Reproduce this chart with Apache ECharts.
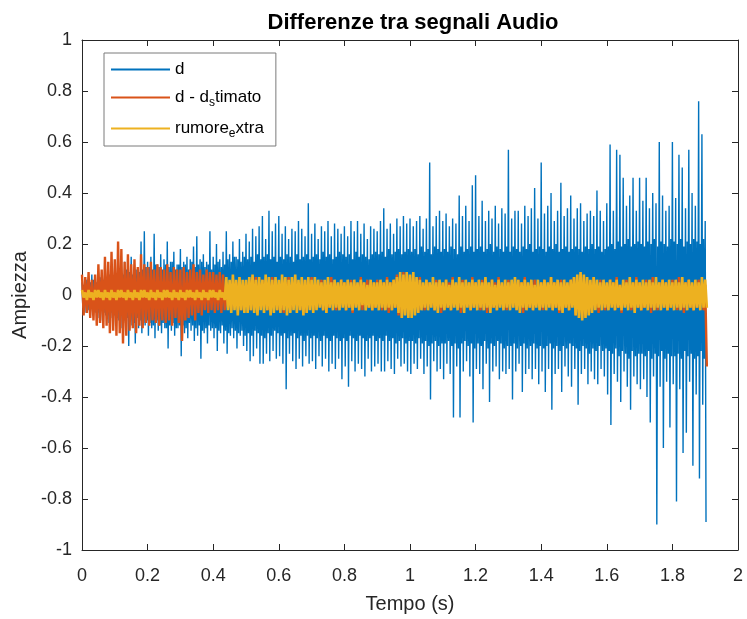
<!DOCTYPE html>
<html>
<head>
<meta charset="utf-8">
<script src="https://cdn.jsdelivr.net/npm/echarts@6/dist/echarts.min.js"></script>
<style>
  html, body { margin: 0; padding: 0; background: #fff; }
  #grafico { width: 747px; height: 619px; }
</style>
</head>
<body>
<div id="grafico"></div>
<script>
// passo tra due coppie (picco alto + picco basso), in secondi
var passoD = 0.005;
var passo = 0.01;

// d: picchi superiori / inferiori (una coppia ogni 5 ms)
var dSu = [
  .05,.04,.07,.06,.06,.05,.08,.06,.07,.05,.09,.07,.08,.06,.10,.07,.09,.08,.11,.07,
  .10,.08,.12,.09,.09,.08,.13,.10,.11,.09,.15,.08,.12,.10,.10,.09,.21,.10,.25,.11,
  .13,.11,.15,.10,.24,.12,.12,.11,.16,.10,.14,.12,.21,.11,.13,.13,.17,.10,.12,.12,
  .18,.11,.13,.12,.15,.10,.14,.13,.19,.11,.23,.12,.14,.13,.16,.11,.13,.12,.25,.10,
  .15,.12,.20,.13,.14,.11,.17,.12,.25,.14,.16,.13,.21,.15,.15,.14,.22,.13,.17,.15,
  .24,.14,.21,.15,.26,.13,.23,.16,.27,.14,.31,.15,.22,.16,.33,.14,.25,.15,.28,.13,
  .31,.15,.24,.14,.27,.16,.22,.15,.26,.13,.25,.16,.29,.14,.26,.15,.23,.16,.36,.14,
  .24,.15,.28,.16,.22,.14,.27,.17,.25,.15,.29,.16,.23,.14,.28,.15,.26,.17,.24,.16,
  .27,.15,.23,.16,.29,.14,.25,.17,.29,.15,.24,.16,.28,.15,.22,.14,.27,.16,.26,.17,
  .25,.16,.29,.17,.34,.15,.26,.18,.28,.16,.24,.17,.30,.18,.27,.16,.31,.17,.28,.18,
  .30,.17,.27,.18,.29,.16,.31,.19,.26,.17,.30,.18,.52,.16,.27,.19,.31,.18,.33,.17,
  .29,.18,.32,.17,.27,.19,.30,.18,.28,.16,.39,.19,.31,.17,.35,.18,.29,.19,.43,.17,
  .47,.18,.31,.19,.37,.17,.29,.18,.33,.20,.30,.17,.35,.19,.28,.18,.34,.17,.32,.19,
  .57,.17,.30,.19,.33,.18,.33,.17,.28,.19,.35,.18,.31,.20,.34,.17,.42,.18,.30,.19,
  .52,.18,.32,.17,.35,.19,.40,.18,.29,.20,.33,.17,.44,.18,.31,.19,.34,.17,.39,.18,
  .30,.19,.34,.18,.36,.17,.29,.19,.32,.18,.33,.20,.31,.18,.41,.19,.33,.17,.29,.18,
  .36,.19,.59,.20,.33,.18,.57,.21,.55,.19,.46,.20,.35,.22,.39,.19,.46,.20,.33,.21,
  .46,.20,.37,.19,.46,.21,.34,.20,.40,.22,.36,.19,.60,.21,.39,.20,.33,.19,.35,.22,
  .60,.21,.38,.20,.55,.22,.50,.19,.34,.21,.57,.20,.40,.22,.35,.21,.76,.20,.63,.22,
  .29
];
var dGiu = [
  -.05,-.04,-.07,-.06,-.06,-.05,-.08,-.06,-.07,-.07,-.09,-.06,-.10,-.07,-.08,-.08,-.11,-.07,-.09,-.08,
  -.12,-.09,-.10,-.08,-.13,-.10,-.11,-.09,-.20,-.10,-.12,-.11,-.19,-.09,-.13,-.10,-.15,-.11,-.12,-.10,
  -.16,-.11,-.13,-.12,-.17,-.10,-.14,-.12,-.15,-.11,-.13,-.13,-.21,-.12,-.14,-.11,-.16,-.13,-.13,-.12,
  -.24,-.12,-.15,-.13,-.17,-.11,-.14,-.12,-.18,-.13,-.16,-.12,-.25,-.14,-.15,-.13,-.19,-.12,-.14,-.13,
  -.17,-.13,-.22,-.14,-.15,-.12,-.19,-.14,-.23,-.15,-.16,-.13,-.17,-.14,-.21,-.15,-.16,-.14,-.20,-.16,
  -.22,-.15,-.26,-.16,-.24,-.14,-.21,-.15,-.27,-.16,-.27,-.17,-.23,-.15,-.26,-.16,-.22,-.14,-.25,-.15,
  -.24,-.16,-.27,-.15,-.37,-.17,-.23,-.16,-.26,-.15,-.29,-.17,-.25,-.16,-.28,-.18,-.24,-.16,-.27,-.17,
  -.26,-.16,-.29,-.17,-.24,-.18,-.28,-.16,-.25,-.17,-.30,-.18,-.27,-.16,-.29,-.17,-.25,-.18,-.33,-.17,
  -.28,-.18,-.36,-.16,-.26,-.17,-.30,-.18,-.27,-.16,-.29,-.17,-.32,-.18,-.25,-.17,-.30,-.16,-.28,-.18,
  -.27,-.17,-.30,-.18,-.30,-.16,-.26,-.18,-.29,-.17,-.31,-.19,-.25,-.18,-.28,-.17,-.27,-.19,-.30,-.18,
  -.31,-.18,-.27,-.19,-.29,-.17,-.25,-.19,-.31,-.18,-.28,-.20,-.41,-.19,-.26,-.18,-.30,-.20,-.29,-.19,
  -.33,-.19,-.27,-.18,-.31,-.20,-.48,-.19,-.28,-.21,-.48,-.19,-.30,-.18,-.26,-.20,-.32,-.19,-.50,-.21,
  -.29,-.19,-.31,-.20,-.37,-.18,-.27,-.21,-.42,-.19,-.30,-.20,-.28,-.18,-.33,-.19,-.30,-.21,-.31,-.20,
  -.29,-.20,-.41,-.19,-.30,-.21,-.27,-.20,-.38,-.19,-.31,-.21,-.29,-.20,-.33,-.19,-.29,-.21,-.35,-.20,
  -.30,-.21,-.38,-.20,-.29,-.19,-.45,-.21,-.31,-.20,-.29,-.22,-.38,-.20,-.28,-.21,-.32,-.19,-.36,-.20,
  -.29,-.21,-.43,-.22,-.31,-.20,-.29,-.21,-.35,-.23,-.30,-.21,-.33,-.22,-.35,-.20,-.29,-.22,-.32,-.21,
  -.39,-.22,-.51,-.23,-.31,-.21,-.34,-.24,-.42,-.22,-.30,-.23,-.36,-.25,-.45,-.22,-.32,-.24,-.35,-.23,
  -.37,-.23,-.33,-.24,-.40,-.22,-.50,-.25,-.32,-.23,-.90,-.24,-.36,-.22,-.60,-.25,-.34,-.23,-.52,-.24,
  -.35,-.24,-.81,-.23,-.37,-.25,-.62,-.22,-.54,-.24,-.34,-.23,-.67,-.25,-.39,-.24,-.72,-.22,-.43,-.25,
  -.89
];

// d - d_stimato (una coppia ogni 10 ms)
var stimaSu = [
  .08,.07,.09,.06,.08,.12,.10,.15,.13,.17,
  .14,.21,.18,.13,.16,.12,.14,.11,.16,.12,
  .11,.13,.10,.12,.11,.10,.12,.09,.11,.10,
  .10,.11,.09,.10,.12,.09,.10,.08,.10,.09,
  .09,.08,.09,.08,.05,.04,.06,.05,.07,.04,
  .05,.06,.04,.07,.05,.06,.04,.05,.07,.05,
  .04,.06,.05,.07,.04,.06,.05,.04,.06,.05,
  .07,.04,.05,.06,.04,.05,.07,.05,.04,.06,
  .05,.04,.06,.05,.04,.07,.05,.06,.04,.05,
  .06,.04,.05,.07,.05,.06,.08,.07,.09,.08,
  .07,.06,.05,.07,.04,.06,.05,.04,.06,.05,
  .04,.06,.05,.07,.04,.05,.06,.04,.05,.07,
  .05,.04,.06,.05,.04,.06,.05,.07,.04,.05,
  .06,.04,.05,.06,.05,.07,.04,.05,.06,.04,
  .05,.06,.04,.07,.05,.04,.06,.05,.04,.06,
  .07,.06,.08,.07,.06,.05,.07,.04,.06,.05,
  .04,.06,.05,.07,.04,.05,.06,.04,.05,.07,
  .05,.04,.06,.05,.07,.04,.05,.06,.05,.04,
  .06,.05,.07,.04,.05,.06,.04,.05,.06,.05,
  .04
];
var stimaGiu = [
  -.08,-.07,-.09,-.10,-.12,-.11,-.13,-.12,-.15,-.14,
  -.16,-.15,-.19,-.16,-.14,-.13,-.15,-.12,-.13,-.11,
  -.12,-.10,-.11,-.12,-.10,-.11,-.10,-.12,-.09,-.11,
  -.18,-.10,-.09,-.08,-.10,-.07,-.08,-.06,-.07,-.06,
  -.07,-.06,-.07,-.06,-.05,-.06,-.04,-.05,-.06,-.05,
  -.04,-.06,-.05,-.07,-.04,-.05,-.06,-.04,-.05,-.06,
  -.05,-.07,-.04,-.06,-.05,-.04,-.06,-.05,-.07,-.04,
  -.06,-.05,-.04,-.06,-.07,-.05,-.04,-.06,-.05,-.04,
  -.06,-.05,-.07,-.04,-.05,-.06,-.04,-.05,-.06,-.05,
  -.04,-.06,-.05,-.07,-.06,-.05,-.08,-.09,-.07,-.08,
  -.06,-.05,-.07,-.04,-.06,-.05,-.04,-.06,-.05,-.07,
  -.04,-.05,-.06,-.04,-.05,-.07,-.05,-.04,-.06,-.05,
  -.04,-.06,-.05,-.07,-.04,-.05,-.06,-.04,-.05,-.06,
  -.05,-.04,-.06,-.05,-.07,-.04,-.05,-.06,-.04,-.05,
  -.06,-.05,-.04,-.06,-.05,-.07,-.04,-.05,-.06,-.04,
  -.08,-.07,-.09,-.08,-.07,-.06,-.05,-.07,-.04,-.06,
  -.05,-.04,-.06,-.05,-.07,-.04,-.05,-.06,-.04,-.05,
  -.06,-.05,-.04,-.07,-.05,-.06,-.04,-.05,-.06,-.05,
  -.04,-.06,-.05,-.07,-.04,-.05,-.06,-.05,-.04,-.06,
  -.28
];

// rumore_extra (una coppia ogni 10 ms)
var rumoreSu = [
  .02,.01,.02,.01,.02,.02,.01,.02,.01,.02,
  .01,.02,.02,.01,.02,.01,.02,.01,.02,.02,
  .01,.02,.01,.02,.01,.02,.02,.01,.02,.01,
  .02,.01,.02,.02,.01,.02,.01,.02,.01,.02,
  .02,.01,.02,.01,.07,.06,.08,.06,.07,.06,
  .06,.07,.08,.06,.07,.06,.08,.07,.06,.07,
  .06,.08,.07,.06,.07,.08,.06,.07,.06,.07,
  .06,.07,.06,.05,.06,.07,.05,.06,.05,.06,
  .05,.06,.05,.06,.05,.06,.05,.04,.06,.05,
  .05,.06,.05,.06,.05,.06,.07,.09,.08,.09,
  .08,.09,.07,.06,.05,.06,.05,.07,.05,.06,
  .05,.06,.04,.06,.05,.07,.05,.06,.05,.06,
  .05,.06,.05,.07,.05,.06,.04,.06,.05,.06,
  .05,.06,.07,.06,.05,.06,.05,.06,.04,.06,
  .05,.06,.05,.07,.05,.06,.05,.06,.05,.06,
  .07,.08,.09,.08,.07,.06,.07,.06,.05,.06,
  .05,.06,.05,.06,.04,.06,.05,.07,.05,.06,
  .05,.06,.05,.06,.05,.07,.05,.06,.05,.06,
  .05,.06,.05,.07,.05,.06,.05,.06,.05,.07,
  .06
];
var rumoreGiu = [
  -.01,-.02,-.01,-.02,-.01,-.01,-.02,-.01,-.02,-.01,
  -.02,-.01,-.01,-.02,-.01,-.02,-.01,-.02,-.01,-.01,
  -.02,-.01,-.02,-.01,-.02,-.01,-.01,-.02,-.01,-.02,
  -.01,-.02,-.01,-.01,-.02,-.01,-.02,-.01,-.02,-.01,
  -.01,-.02,-.01,-.02,-.06,-.07,-.06,-.08,-.06,-.07,
  -.07,-.06,-.07,-.08,-.06,-.07,-.06,-.08,-.07,-.06,
  -.07,-.06,-.08,-.07,-.06,-.07,-.06,-.08,-.07,-.06,
  -.07,-.06,-.05,-.06,-.07,-.05,-.06,-.05,-.06,-.05,
  -.06,-.05,-.06,-.05,-.06,-.04,-.06,-.05,-.06,-.05,
  -.06,-.05,-.06,-.05,-.06,-.05,-.07,-.09,-.08,-.09,
  -.09,-.08,-.07,-.06,-.05,-.06,-.05,-.06,-.07,-.05,
  -.06,-.05,-.06,-.05,-.06,-.05,-.07,-.05,-.06,-.05,
  -.06,-.05,-.06,-.05,-.07,-.05,-.06,-.05,-.06,-.05,
  -.06,-.05,-.06,-.07,-.05,-.06,-.05,-.06,-.05,-.06,
  -.05,-.06,-.05,-.06,-.05,-.06,-.07,-.05,-.06,-.05,
  -.08,-.09,-.10,-.09,-.08,-.07,-.06,-.05,-.06,-.05,
  -.06,-.05,-.06,-.05,-.06,-.05,-.06,-.05,-.07,-.05,
  -.06,-.05,-.06,-.05,-.06,-.05,-.06,-.05,-.06,-.05,
  -.06,-.05,-.06,-.05,-.06,-.05,-.06,-.05,-.06,-.05,
  -.05
];

var nomi = ["d", "d - d_stimato", "rumore_extra"];
var colori = ["#0072BD", "#D95319", "#EDB120"];
var spessori = [1.4, 2.4, 2.6];

// alterna picco alto e picco basso lungo il tempo
function costruisci(su, giu, dt) {
  var out = [];
  for (var i = 0; i < su.length; i++) {
    out.push([+(i * dt).toFixed(4), su[i]]);
    out.push([+(i * dt + dt / 2).toFixed(4), giu[i]]);
  }
  return out;
}

var font = "Liberation Sans";
var grigio = "#262626";

function asseX(pos, etichette) {
  return {
    type: "value", position: pos, min: 0, max: 2, interval: 0.2,
    axisLine: { onZero: false, lineStyle: { color: grigio, width: 1 } },
    axisTick: { inside: true, length: 6, lineStyle: { color: grigio } },
    axisLabel: { show: etichette, margin: 17, color: grigio, fontFamily: font, fontSize: 18 },
    splitLine: { show: false },
    name: etichette ? "Tempo (s)" : "",
    nameLocation: "middle", nameGap: 44,
    nameTextStyle: { color: grigio, fontFamily: font, fontSize: 20 }
  };
}
function asseY(pos, etichette) {
  return {
    type: "value", position: pos, min: -1, max: 1, interval: 0.2,
    axisLine: { onZero: false, lineStyle: { color: grigio, width: 1 } },
    axisTick: { inside: true, length: 6, lineStyle: { color: grigio } },
    axisLabel: { show: etichette, margin: 10, color: grigio, fontFamily: font, fontSize: 18 },
    splitLine: { show: false },
    name: etichette ? "Ampiezza" : "",
    nameLocation: "middle", nameGap: 47,
    nameTextStyle: { color: grigio, fontFamily: font, fontSize: 20 }
  };
}

var chart = echarts.init(document.getElementById("grafico"), null, { renderer: "canvas" });
chart.setOption({
  animation: false,
  backgroundColor: "#fff",
  title: {
    text: "Differenze tra segnali Audio",
    left: 408, top: 7, textAlign: "center",
    textStyle: { fontFamily: font, fontSize: 22, fontWeight: "bold", color: "#000" }
  },
  grid: { left: 82, right: 9, top: 40, bottom: 68, containLabel: false },
  xAxis: [asseX("bottom", true), asseX("top", false)],
  yAxis: [asseY("left", true), asseY("right", false)],
  legend: {
    orient: "vertical", left: 104, top: 53,
    backgroundColor: "#fff", borderColor: "#7a7a7a", borderWidth: 1,
    padding: [8, 12, 6, 7], itemGap: 11,
    itemWidth: 59, itemHeight: 2, icon: "rect",
    data: nomi,
    formatter: function (n) {
      if (n === "d - d_stimato") return "{n|d - d}{s|s}{n|timato}";
      if (n === "rumore_extra") return "{n|rumore}{s|e}{n|xtra}";
      return "{n|" + n + "}";
    },
    textStyle: {
      color: "#000", fontFamily: font, fontSize: 17,
      rich: {
        n: { fontFamily: font, fontSize: 17, color: "#000" },
        s: { fontFamily: font, fontSize: 12, color: "#000", padding: [11, 0, 0, 0] }
      }
    }
  },
  series: nomi.map(function (nome, k) {
    var fonti = [[dSu, dGiu, passoD], [stimaSu, stimaGiu, passo], [rumoreSu, rumoreGiu, passo]][k];
    return {
      name: nome, type: "line", xAxisIndex: 0, yAxisIndex: 0,
      data: costruisci(fonti[0], fonti[1], fonti[2]),
      showSymbol: false, symbol: "none", sampling: null,
      lineStyle: { color: colori[k], width: spessori[k] },
      itemStyle: { color: colori[k] },
      z: 2 + k
    };
  })
});
</script>
</body>
</html>
